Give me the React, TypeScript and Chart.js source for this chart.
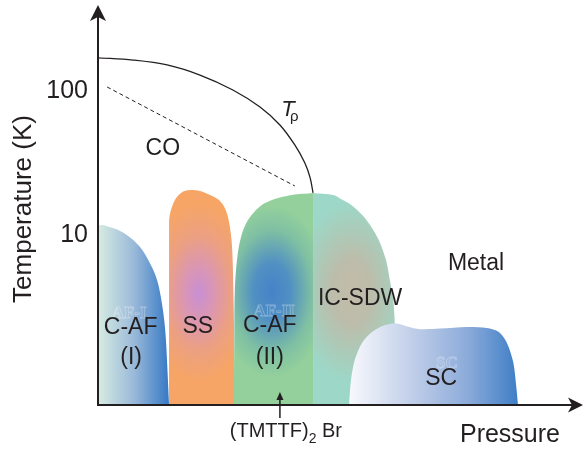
import React, { useEffect, useRef } from 'react';
import { Chart, registerables } from 'chart.js';
Chart.register(...registerables);

const FONT = '"Liberation Sans", Arial, Helvetica, sans-serif';
const INK = '#231f20';

// axis ranges (pressure: arbitrary units, temperature: K, log scale)
const X_MIN = 0;
const X_MAX = 100;
const Y_MIN = 0.66;
const Y_MAX = 365;
const yTickValues = [10, 100];

// phase regions (pressure, temperature)
const cafIP = [0, 0.1, 3.1, 6.0, 8.75, 10.8, 12.3, 13.3, 14.0, 14.4, 14.8];
const cafIT = [0.66, 11.36, 11.19, 10, 8.25, 6.39, 4.87, 3.37, 2.19, 1.29, 0.66];

const ssP = [14.8, 14.4, 14.4, 14.8, 15.8, 17.3, 19.2, 21.25, 23.3, 25.2, 26.5, 27.3, 27.9, 28.2, 28.4, 28.5];
const ssT = [0.66, 1.87, 6.7, 12.7, 16.96, 19.6, 20.5, 20.2, 18.96, 17.5, 15.2, 12.3, 8.52, 4.15, 1.59, 0.66];

const cafIIP = [28.3, 28.4, 28.5, 29.0, 29.8, 31.0, 32.5, 34.2, 36.25, 38.5, 41.0, 44.8];
const cafIIT = [0.66, 1.87, 4.15, 6.92, 9.68, 12.3, 14.4, 16.2, 17.5, 18.4, 19.1, 19.6];

const sdwP = [44.8, 49.0, 51.0, 52.7, 55.0, 56.7, 58.5, 60.0, 60.8, 61.5, 61.8, 62.0, 62.1];
const sdwT = [19.6, 18.96, 17.5, 16.2, 13.8, 11.7, 9.23, 6.7, 4.87, 3.54, 2.57, 1.59, 0.66];

const scP = [52.3, 52.7, 53.5, 55.0, 57.1, 59.8, 62.3, 64.4, 67.1, 71.25, 76.9, 81.0, 83.5, 85.2, 86.5, 87.1, 87.5];
const scT = [0.66, 0.98, 1.36, 1.78, 2.12, 2.37, 2.43, 2.32, 2.22, 2.24, 2.30, 2.26, 2.12, 1.78, 1.31, 0.91, 0.66];

// T_rho line and dashed CO crossover line
const rhoP = [0, 7.3, 14.4, 21.25, 28.1, 33.75, 37.9, 41.0, 43.1, 44.2, 44.8];
const rhoT = [170, 164, 151.7, 129, 101.6, 77.4, 58.1, 42.2, 31.6, 24.9, 19.6];
const dashP = [1.9, 41.0];
const dashT = [106.6, 21.9];

// labels
const labelText = ['CO', 'Metal', 'IC-SDW', 'C-AF', '(I)', 'SS', 'C-AF', '(II)', 'SC'];
const labelP = [13.5, 78.75, 54.6, 6.8, 6.9, 20.8, 35.8, 35.8, 71.5];
const labelT = [39.9, 6.3, 3.59, 2.28, 1.41, 2.3, 2.33, 1.4, 1.0];

const ghostText = ['AF-I', 'AF-II', 'SC'];
const ghostP = [6.5, 36.7, 72.7];
const ghostT = [2.85, 2.95, 1.28];

const rhoLabelP = 39.8;
const rhoLabelT = 73.8;
const samplePressure = 37.9;

const toPts = (xs: number[], ys: number[]) => xs.map((x, i) => ({ x, y: ys[i] }));

const linGrad = (x0: number, x1: number, stops: [number, string][]) => (ctx: any) => {
  const chart = ctx.chart;
  if (!chart.chartArea) return stops[0][1];
  const xs = chart.scales.x;
  const g = chart.ctx.createLinearGradient(xs.getPixelForValue(x0), 0, xs.getPixelForValue(x1), 0);
  stops.forEach(([o, c]) => g.addColorStop(o, c));
  return g;
};

// elliptical radial gradient rendered to an offscreen canvas and used as a pattern
const ellGrad = (cx: number, cy: number, rx: number, ry: number, stops: [number, string][]) => (ctx: any) => {
  const chart = ctx.chart;
  if (!chart.chartArea) return stops[stops.length - 1][1];
  const px = chart.scales.x.getPixelForValue(cx);
  const py = chart.scales.y.getPixelForValue(cy);
  const off = document.createElement('canvas');
  off.width = chart.width;
  off.height = chart.height;
  const o = off.getContext('2d')!;
  o.translate(px, py);
  o.scale(1, ry / rx);
  const g = o.createRadialGradient(0, 0, 0, 0, 0, rx);
  stops.forEach(([s, c]) => g.addColorStop(s, c));
  o.fillStyle = g;
  o.fillRect(-1000, -1000, 3000, 3000);
  return chart.ctx.createPattern(off, 'no-repeat');
};

const region = (xs: number[], ys: number[], bg: any, order: number, tension = 0.35) => ({
  data: toPts(xs, ys),
  fill: 'start',
  backgroundColor: bg,
  borderWidth: 0,
  borderColor: 'rgba(0,0,0,0)',
  pointRadius: 0,
  tension,
  order,
});

const decor = {
  id: 'decor',
  afterDraw(chart: any) {
    const c: CanvasRenderingContext2D = chart.ctx;
    const xs = chart.scales.x;
    const ys = chart.scales.y;
    const ca = chart.chartArea;
    const px = (v: number) => xs.getPixelForValue(v);
    const py = (v: number) => ys.getPixelForValue(v);
    c.save();
    c.fillStyle = INK;
    c.strokeStyle = INK;

    // faint ghost labels
    c.save();
    c.font = `bold 17px "Liberation Serif", serif`;
    c.textAlign = 'center';
    c.textBaseline = 'middle';
    c.strokeStyle = 'rgba(255,255,255,0.3)';
    c.lineWidth = 0.8;
    ghostText.forEach((t, i) => c.strokeText(t, px(ghostP[i]), py(ghostT[i])));
    c.restore();

    // region labels
    c.font = `23px ${FONT}`;
    c.textAlign = 'center';
    c.textBaseline = 'middle';
    labelText.forEach((t, i) => c.fillText(t, px(labelP[i]), py(labelT[i])));

    // T_rho label
    const rx = px(rhoLabelP);
    const ry = py(rhoLabelT);
    c.font = `italic 22px ${FONT}`;
    c.textAlign = 'center';
    c.fillText('T', rx - 1, ry);
    c.font = `15px ${FONT}`;
    c.textAlign = 'left';
    c.fillText('ρ', rx + 1, ry + 7);

    // axes with arrows
    c.lineWidth = 2;
    c.beginPath();
    c.moveTo(ca.left, ca.bottom + 1);
    c.lineTo(ca.left, 16);
    c.moveTo(ca.left - 1, ca.bottom);
    c.lineTo(ca.right - 6, ca.bottom);
    c.stroke();
    c.beginPath();
    c.moveTo(ca.left, 5);
    c.lineTo(ca.left - 8, 21);
    c.lineTo(ca.left, 17);
    c.lineTo(ca.left + 8, 21);
    c.closePath();
    c.fill();
    const tipX = ca.right + 5;
    c.beginPath();
    c.moveTo(tipX, ca.bottom);
    c.lineTo(tipX - 15, ca.bottom - 7.5);
    c.lineTo(tipX - 11, ca.bottom);
    c.lineTo(tipX - 15, ca.bottom + 7.5);
    c.closePath();
    c.fill();

    // sample arrow
    const ax = px(samplePressure);
    c.lineWidth = 1.5;
    c.beginPath();
    c.moveTo(ax, ca.bottom + 13);
    c.lineTo(ax, ca.bottom - 8);
    c.stroke();
    c.beginPath();
    c.moveTo(ax, ca.bottom - 13);
    c.lineTo(ax - 3.5, ca.bottom - 5);
    c.lineTo(ax + 3.5, ca.bottom - 5);
    c.closePath();
    c.fill();

    // sample label (TMTTF)2Br
    c.textAlign = 'left';
    c.textBaseline = 'alphabetic';
    c.font = `20px ${FONT}`;
    const w1 = c.measureText('(TMTTF)').width;
    c.font = `14px ${FONT}`;
    const w2 = c.measureText('2').width;
    c.font = `20px ${FONT}`;
    const w3 = c.measureText(' Br').width;
    const total = w1 + w2 + w3;
    let sx = ax + 6 - total / 2;
    const base = ca.bottom + 32;
    c.fillText('(TMTTF)', sx, base);
    sx += w1;
    c.font = `14px ${FONT}`;
    c.fillText('2', sx, base + 6);
    sx += w2;
    c.font = `20px ${FONT}`;
    c.fillText(' Br', sx, base);

    // axis titles
    c.font = `25px ${FONT}`;
    c.textAlign = 'right';
    c.textBaseline = 'middle';
    c.fillText('Pressure', ca.right - 18, ca.bottom + 30);

    c.save();
    c.translate(24, 209);
    c.rotate(-Math.PI / 2);
    c.font = `26px ${FONT}`;
    c.textAlign = 'center';
    c.fillText('Temperature (K)', 0, 0);
    c.restore();

    c.restore();
  },
};

export default function App() {
  const ref = useRef<HTMLCanvasElement | null>(null);
  useEffect(() => {
    document.body.style.margin = '0';
    const canvas = ref.current;
    if (!canvas) return;
    const chart = new Chart(canvas, {
      type: 'line',
      data: {
        datasets: [
          {
            data: toPts(rhoP, rhoT),
            borderColor: INK,
            borderWidth: 1.3,
            pointRadius: 0,
            fill: false,
            tension: 0.35,
            order: 0,
          } as any,
          {
            data: toPts(dashP, dashT),
            borderColor: INK,
            borderWidth: 1,
            borderDash: [4, 3],
            pointRadius: 0,
            fill: false,
            tension: 0,
            order: 1,
          } as any,
          region(scP, scT, linGrad(52.3, 87.5, [[0, '#f8f9fd'], [0.35, '#c4d1ea'], [0.7, '#8cabda'], [1, '#3e7ec6']]), 2, 0.3),
          region(sdwP, sdwT, ellGrad(52.9, 4.02, 55, 90, [[0, '#c3bdaa'], [0.35, '#bdbcaa'], [0.7, '#abcbb9'], [1, '#9dd7c7']]), 3, 0.3),
          region(cafIIP, cafIIT, ellGrad(36.25, 4.05, 62, 95, [[0, '#4482c9'], [0.3, '#5190c2'], [0.65, '#7fc0a3'], [0.9, '#93d09c'], [1, '#93d09c']]), 4),
          region(ssP, ssT, ellGrad(21.0, 3.95, 60, 105, [[0, '#c88fd3'], [0.25, '#da96b4'], [0.55, '#eca081'], [0.85, '#f6a566'], [1, '#f6a566']]), 5),
          region(cafIP, cafIT, linGrad(0.4, 14.4, [[0, '#d3e9e1'], [0.5, '#9bbad9'], [1, '#3b7cc6']]), 6),
        ] as any,
      },
      options: {
        animation: false,
        responsive: false,
        events: [],
        layout: { padding: { top: 10, right: 5, left: 0, bottom: 0 } },
        plugins: { legend: { display: false }, tooltip: { enabled: false } },
        scales: {
          x: {
            type: 'linear',
            min: X_MIN,
            max: X_MAX,
            grid: { display: false },
            border: { display: false },
            ticks: { display: false },
            afterFit: (s: any) => { s.height = 45; s.paddingLeft = 0; s.paddingRight = 0; },
          },
          y: {
            type: 'logarithmic',
            min: Y_MIN,
            max: Y_MAX,
            grid: { display: false, drawTicks: false },
            border: { display: false },
            afterBuildTicks: (s: any) => { s.ticks = yTickValues.map((v) => ({ value: v })); },
            ticks: {
              padding: 10,
              color: INK,
              font: { family: FONT, size: 25 },
              callback: (v: any) => String(v),
            },
            afterFit: (s: any) => { s.width = 98; s.paddingTop = 0; s.paddingBottom = 0; },
          },
        },
      } as any,
      plugins: [decor],
    });
    return () => chart.destroy();
  }, []);
  return (
    <div style={{ width: 583, height: 450 }}>
      <canvas ref={ref} width={583} height={450} />
    </div>
  );
}
